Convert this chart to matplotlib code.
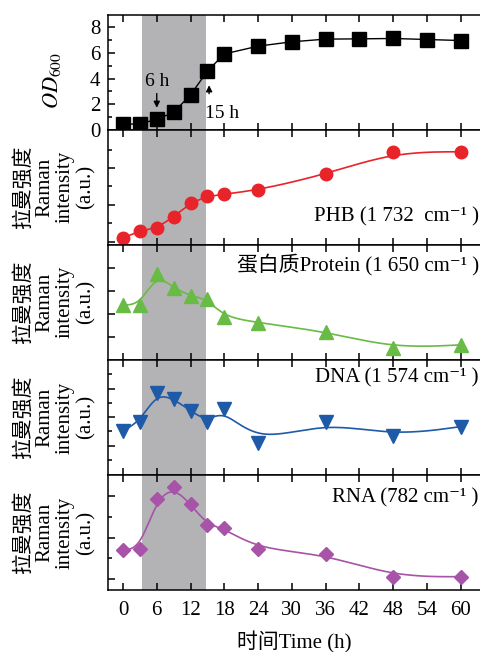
import numpy as np
import matplotlib
matplotlib.use("Agg")
import matplotlib.pyplot as plt
from matplotlib.ticker import FixedLocator

plt.rcParams['font.family'] = ['Liberation Serif', 'DejaVu Serif', 'Noto Sans CJK SC']
plt.rcParams['mathtext.fontset'] = 'stix'

# growth curve
od_time = [0, 3, 6, 9, 12, 15, 18, 24, 30, 36, 42, 48, 54, 60]
od_600 = [0.42, 0.47, 0.81, 1.36, 2.73, 4.59, 5.93, 6.54, 6.88, 7.09, 7.11, 7.14, 7.06, 6.98]

# raman intensities (a.u.)
raman_time = [0, 3, 6, 9, 12, 15, 18, 24, 36, 48, 60]
phb = [6.7, 14.0, 16.7, 28.0, 42.0, 48.3, 50.7, 54.7, 70.3, 92.7, 93.0]
protein = [55.0, 55.0, 86.0, 71.7, 64.0, 60.7, 42.7, 37.3, 28.3, 11.7, 15.0]
dna = [44.3, 53.3, 81.7, 75.7, 64.3, 53.0, 65.7, 31.7, 53.3, 39.0, 48.3]
rna = [40.0, 41.3, 91.0, 102.7, 85.7, 65.0, 61.7, 40.7, 36.0, 13.3, 13.3]

panel_labels = ['PHB (1 732  cm⁻¹ )', '蛋白质Protein (1 650 cm⁻¹ )',
                'DNA (1 574 cm⁻¹ )', 'RNA (782 cm⁻¹ )']
label_y = [28, 95, 97, 92]
colors = ['#e8242a', '#68bb44', '#1f5aa8', '#a653a8']
markers = ['o', '^', 'v', 'D']
msizes = [9, 10.5, 10.5, 7.5]
major_y = [[3.3, 40, 76.7], [23, 46, 69, 92], [29, 58, 86.3], [10.7, 52.3, 94]]
minor_y = [[21.6, 58.3, 95], [], [15, 43.5, 72, 101], [31.5, 73.1]]

x_ticks = list(range(0, 61, 6))
shade = (3.4, 14.7)


def bspline(x, y, n=30):
    # uniform cubic B-spline with the points as control points
    px = np.r_[x[0], x[0], x, x[-1], x[-1]].astype(float)
    py = np.r_[y[0], y[0], y, y[-1], y[-1]].astype(float)
    t = np.linspace(0, 1, n)
    b0 = (1 - t) ** 3 / 6
    b1 = (3 * t ** 3 - 6 * t ** 2 + 4) / 6
    b2 = (-3 * t ** 3 + 3 * t ** 2 + 3 * t + 1) / 6
    b3 = t ** 3 / 6
    xs, ys = [], []
    for i in range(len(px) - 3):
        xs.append(b0 * px[i] + b1 * px[i + 1] + b2 * px[i + 2] + b3 * px[i + 3])
        ys.append(b0 * py[i] + b1 * py[i + 1] + b2 * py[i + 2] + b3 * py[i + 3])
    return np.concatenate(xs), np.concatenate(ys)


W, H = 481, 652
fig = plt.figure(figsize=(W / 100, H / 100), dpi=100)
left = 107.5 / W
top_px = 14.7
panel_h = 115.06
x_left = -2.75
x_right = 63.6


def make_ax(k):
    bottom = 1 - (top_px + (k + 1) * panel_h) / H
    ax = fig.add_axes([left, bottom, 1 - left, panel_h / H])
    ax.set_xlim(x_left, x_right)
    ax.axvspan(shade[0], shade[1], color='#b3b3b5', lw=0, zorder=0)
    ax.spines['right'].set_visible(False)
    for s in ['left', 'top', 'bottom']:
        ax.spines[s].set_linewidth(1.1)
    ax.set_xticks(x_ticks)
    ax.tick_params(axis='x', direction='in', top=True, length=5, width=1.1)
    ax.tick_params(axis='y', which='both', direction='in', width=1.1)
    ax.tick_params(axis='y', which='major', length=5)
    ax.tick_params(axis='y', which='minor', length=3)
    ax.tick_params(labelsize=15)
    return ax


# OD panel
ax = make_ax(0)
ax.plot(od_time, od_600, color='k', lw=1, marker='s', ms=9.5, zorder=3)
ax.set_ylim(0, 9)
ax.set_yticks([0, 2, 4, 6, 8])
ax.yaxis.set_minor_locator(FixedLocator([1, 3, 5, 7]))
ax.tick_params(axis='x', labelbottom=False)
ax.tick_params(axis='y', pad=5)
ax.annotate('', xy=(6, 1.5), xytext=(6, 3.05),
            arrowprops=dict(arrowstyle='-|>', color='k', lw=1, mutation_scale=9))
ax.text(6.1, 3.8, '6 h', fontsize=14, ha='center', va='center')
ax.annotate('', xy=(15.3, 3.7), xytext=(15.3, 2.6),
            arrowprops=dict(arrowstyle='-|>', color='k', lw=1, mutation_scale=9))
ax.text(17.6, 1.3, '15 h', fontsize=14, ha='center', va='center')
fig.text(52 / W, 1 - 80 / H, r'$OD_{600}$', rotation=90, fontsize=16,
         ha='center', va='center')

series = [phb, protein, dna, rna]
for k, vals in enumerate(series):
    ax = make_ax(k + 1)
    cx, cy = bspline(raman_time, vals)
    ax.plot(cx, cy, color=colors[k], lw=1.2, zorder=2)
    ax.plot(raman_time, vals, ls='none', marker=markers[k], ms=msizes[k],
            color=colors[k], zorder=3)
    ax.set_ylim(0, 115)
    ax.yaxis.set_major_locator(FixedLocator(major_y[k]))
    ax.yaxis.set_minor_locator(FixedLocator(minor_y[k]))
    ax.tick_params(axis='y', labelleft=False)
    ax.text(63.2, label_y[k], panel_labels[k], fontsize=15, ha='right', va='center')
    if k < 3:
        ax.tick_params(axis='x', labelbottom=False)
    else:
        ax.tick_params(axis='x', pad=8)
        ax.set_xlabel('时间Time (h)', fontsize=15, labelpad=8)
    cy_fig = 1 - (top_px + (k + 1.5) * panel_h) / H
    fig.text(54.5 / W, cy_fig, '拉曼强度\nRaman\nintensity\n(a.u.)', rotation=90,
             fontsize=15, ha='center', va='center', multialignment='center',
             linespacing=1.1)

fig.savefig('out.png', dpi=100)
